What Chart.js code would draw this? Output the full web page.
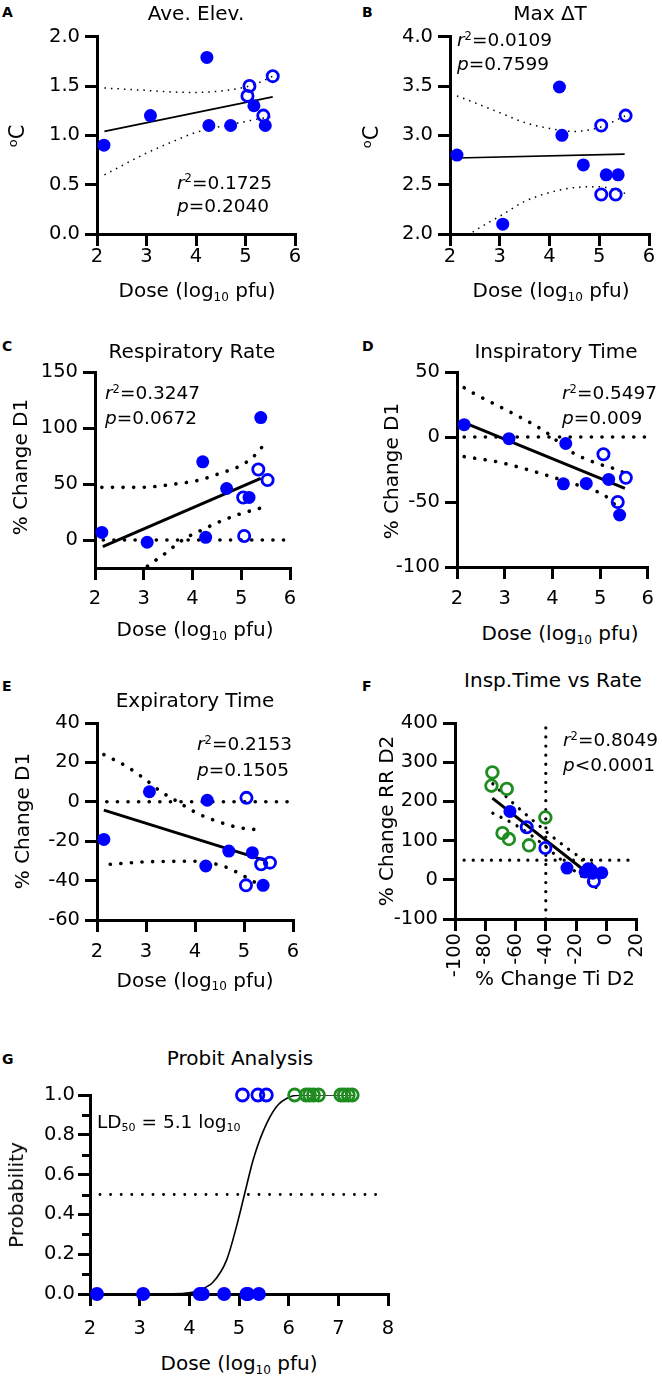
<!DOCTYPE html>
<html><head><meta charset="utf-8">
<script src="https://cdn.jsdelivr.net/npm/chart.js@4.4.0/dist/chart.umd.min.js"></script>
<style>
html,body{margin:0;padding:0;background:#fff;}
body{width:662px;height:1380px;position:relative;overflow:hidden;font-family:"DejaVu Sans",sans-serif;color:#000;}
canvas{position:absolute;}
.t{position:absolute;white-space:nowrap;line-height:1;}
.sup{font-size:0.62em;position:relative;top:-0.55em;}
.sub{font-size:0.6em;position:relative;top:0.3em;}
</style></head><body>
<script>
// ---------------- DATA ----------------
// Panel A: Ave. Elev.
const doseA = [2.14, 3.08, 4.22, 4.26, 4.70, 5.17, 5.40];
const elevA = [0.90, 1.20, 1.79, 1.10, 1.10, 1.30, 1.10];
const doseAOpen = [5.08, 5.04, 5.36, 5.55];
const elevAOpen = [1.50, 1.40, 1.20, 1.60];
const fitAX = [2.15, 5.55];
const fitAY = [1.04, 1.39];
const bandAX = [2.15, 3.0, 3.5, 4.0, 4.5, 5.0, 5.3, 5.55];
const upperAY = [1.48, 1.455, 1.44, 1.435, 1.45, 1.49, 1.54, 1.60];
const lowerAY = [0.60, 0.82, 0.93, 1.03, 1.09, 1.14, 1.17, 1.19];

// Panel B: Max dT
const doseB = [2.14, 3.06, 4.20, 4.25, 4.68, 5.14, 5.38];
const dtB = [2.80, 2.10, 3.49, 3.00, 2.70, 2.60, 2.60];
const doseBOpen = [5.04, 5.53, 5.04, 5.33];
const dtBOpen = [3.10, 3.20, 2.40, 2.40];
const fitBX = [2.14, 5.51];
const fitBY = [2.77, 2.81];
const upperBX = [2.14, 2.5, 3.0, 3.5, 4.0, 4.5, 5.0, 5.53];
const upperBY = [3.40, 3.33, 3.23, 3.13, 3.07, 3.04, 3.08, 3.20];
const lowerBX = [2.14, 2.49, 3.0, 3.5, 4.0, 4.5, 5.0, 5.3, 5.53];
const lowerBY = [1.90, 2.03, 2.18, 2.33, 2.42, 2.47, 2.48, 2.45, 2.41];

// Panel C: Respiratory Rate
const doseC = [2.14, 3.07, 4.21, 4.27, 4.70, 5.16, 5.40];
const rrC = [6.8, -2.0, 69.8, 2.4, 46.0, 38.0, 109.3];
const doseCOpen = [5.35, 5.54, 5.04, 5.06];
const rrCOpen = [63.0, 53.5, 38.0, 3.6];
const fitCX = [2.16, 5.40];
const fitCY = [-6, 55];
const upperCX = [2.14, 2.92, 3.74, 4.15, 4.56, 4.97, 5.25, 5.42];
const upperCY = [47, 47, 50.6, 53.6, 59.5, 66, 74.4, 82.7];
const lowerCX = [2.9, 3.2, 3.37, 3.57, 3.85, 4.22, 4.56, 4.97, 5.38];
const lowerCY = [-29, -19.4, -14.3, -7.4, 1.5, 9.5, 16.4, 23.2, 28.3];
const zeroCX = [2.17, 5.9];
const zeroCY = [0, 0];

// Panel D: Inspiratory Time
const doseD = [2.15, 3.09, 4.28, 4.23, 4.71, 5.18, 5.41];
const tiD = [9.5, -1.3, -5.0, -36.0, -35.7, -32.6, -60.0];
const doseDOpen = [5.07, 5.54, 5.37];
const tiDOpen = [-13.3, -31.4, -50.0];
const fitDX = [2.15, 5.52];
const fitDY = [11, -39.5];
const upperDX = [2.15, 2.35, 3.10, 3.85, 4.39, 4.94, 5.41, 5.52];
const upperDY = [37.9, 33.6, 19.5, 4.1, -11.3, -20.3, -25.9, -28];
const lowerDX = [2.15, 2.83, 3.51, 4.19, 4.73, 5.08, 5.35, 5.45];
const lowerDY = [-15.1, -19, -25.4, -33, -39.5, -44.6, -53.6, -58];
const zeroDX = [2.15, 5.93];
const zeroDY = [0, 0];

// Panel E: Expiratory Time
const doseE = [3.07, 4.25, 2.14, 4.22, 4.69, 5.17, 5.39];
const teE = [5.1, 0.8, -19.1, -32.6, -25.0, -25.8, -42.4];
const doseEOpen = [5.05, 5.35, 5.53, 5.04];
const teEOpen = [2.0, -31.7, -30.9, -42.4];
const fitEX = [2.14, 5.46];
const fitEY = [-4.2, -30];
const upperEX = [2.14, 2.6, 2.99, 3.29, 3.63, 4.03, 4.44, 4.92, 5.4];
const upperEY = [24, 18, 11.3, 5.4, 0.3, -5.6, -9.8, -13.2, -14.4];
const lowerEX = [2.27, 3.08, 3.97, 4.44, 4.71, 4.93, 5.2, 5.4];
const lowerEY = [-31.7, -30.4, -30.2, -31.7, -33.9, -36.8, -40.5, -44];
const zeroEX = [2.2, 5.88];
const zeroEY = [0, 0];

// Panel F: Insp. Time vs Rate
const tiFGreen = [-75.3, -75.9, -65.8, -68.6, -64.4, -51.1, -40.3];
const rrFGreen = [274, 240, 232, 119, 104, 88, 159];
const tiFBlue = [-63.7, -26, -14, -12, -10, -9, -3];
const rrFBlue = [174.5, 30, 20, 28, 25, 17, 18];
const tiFBlueOpen = [-52.6, -40.3, -8.2];
const rrFBlueOpen = [134, 81, -4];
const fitFX = [-75.3, -8];
const fitFY = [208.5, 4];
const upperFX = [-75, -60, -45, -35, -25, -15, -5];
const upperFY = [245, 190, 140, 108, 78, 52, 32];
const lowerFX = [-75, -60, -45, -35, -25, -15, -5];
const lowerFY = [170, 140, 100, 68, 35, 5, -25];
const refHX = [-94, 20];
const refHY = [50, 50];
const refVX = [-40, -40];
const refVY = [-100, 400];

// Panel G: Probit Analysis
const doseGDead = [2.14, 3.07, 4.21, 4.27, 4.70, 5.15, 5.18, 5.40];
const probGDead = [0, 0, 0, 0, 0, 0, 0, 0];
const doseGBlue = [5.07, 5.38, 5.55];
const probGBlue = [1, 1, 1];
const doseGGreen = [6.12, 6.35, 6.42, 6.50, 6.60, 7.05, 7.12, 7.20, 7.28];
const probGGreen = [1, 1, 1, 1, 1, 1, 1, 1, 1];
const curveGX = [2.14, 3.0, 3.6, 4.0, 4.2, 4.48, 4.75, 4.95, 5.12, 5.28, 5.49, 5.75, 6.02, 6.3, 7.3];
const curveGY = [0, 0, 0.001, 0.006, 0.02, 0.06, 0.17, 0.34, 0.51, 0.67, 0.82, 0.94, 0.99, 1.0, 1.0];
const halfGX = [2.2, 7.93];
const halfGY = [0.5, 0.5];
const gMinorTicks = [0.1, 0.3, 0.5, 0.7, 0.9];

// ---------------- STYLE / HELPERS ----------------
const FONT = '"DejaVu Sans", sans-serif';
const BLUE = '#0000ff';
const GREEN = '#1f8c1f';
const TICK_SIZE = 19.5;
Chart.defaults.font.family = FONT;
Chart.defaults.color = '#000';

function pts(xs, ys) { return xs.map((x, i) => ({x: x, y: ys[i]})); }
function filledSet(xs, ys, color, r) {
  return {data: pts(xs, ys), showLine: false, pointRadius: r, pointHoverRadius: r,
    pointBackgroundColor: color, pointBorderColor: color, pointBorderWidth: 0, clip: false, order: 0};
}
function openSet(xs, ys, color, r, bw) {
  return {data: pts(xs, ys), showLine: false, pointRadius: r, pointHoverRadius: r,
    pointBackgroundColor: 'rgba(0,0,0,0)', pointBorderColor: color, pointBorderWidth: bw, clip: false, order: 0};
}
function lineSet(xs, ys, width, dash, cap, smooth) {
  return {data: pts(xs, ys), showLine: true, pointRadius: 0, pointHoverRadius: 0,
    borderColor: '#000', backgroundColor: '#000', borderWidth: width, borderDash: dash || [],
    borderCapStyle: cap || 'butt', cubicInterpolationMode: smooth ? 'monotone' : 'default',
    tension: 0, fill: false, order: 1};
}
function axis(pos, min, max, step, o) {
  return {
    type: 'linear', position: pos, min: min, max: max,
    ticks: {stepSize: step, includeBounds: false, autoSkip: false,
      maxRotation: o.rot || 0, minRotation: o.rot || 0, padding: o.pad,
      color: '#000', font: {family: FONT, size: TICK_SIZE},
      callback: o.fmt || (v => String(Math.round(v * 1000) / 1000))},
    grid: {display: true, drawOnChartArea: false, drawTicks: true, tickLength: 12,
      tickWidth: 3, tickColor: '#000', color: '#000', lineWidth: 3},
    border: {display: true, color: '#000', width: 3},
    afterFit: o.afterFit
  };
}
const fmt1 = v => v.toFixed(1);

function makeChart(rect, area, xAx, yAx, datasets, plugins) {
  const c = document.createElement('canvas');
  c.width = rect.w; c.height = rect.h;
  c.style.left = rect.x + 'px'; c.style.top = rect.y + 'px';
  c.style.width = rect.w + 'px'; c.style.height = rect.h + 'px';
  document.body.appendChild(c);
  xAx.afterFit = s => { s.height = rect.y + rect.h - area.b; };
  yAx.afterFit = s => { s.width = area.l - rect.x; };
  return new Chart(c.getContext('2d'), {
    type: 'scatter',
    data: {datasets: datasets},
    options: {
      responsive: false, animation: false, devicePixelRatio: 1, events: [],
      layout: {autoPadding: false, padding: {left: 0, top: area.t - rect.y, right: rect.x + rect.w - area.r, bottom: 0}},
      plugins: {legend: {display: false}, tooltip: {enabled: false}, title: {display: false}},
      scales: {x: xAx, y: yAx}
    },
    plugins: plugins || []
  });
}

const FINE = [1.5, 5];
const DOT = [0.1, 10.5];
const DOTF = [0.1, 9];

// A
makeChart({x: 0, y: 20, w: 330, h: 260}, {l: 97, t: 33, r: 295, b: 234},
  axis('bottom', 2, 6, 1, {pad: -1}), axis('left', 0, 2, 0.5, {pad: 5, fmt: fmt1}),
  [filledSet(doseA, elevA, BLUE, 6.5), openSet(doseAOpen, elevAOpen, BLUE, 5.6, 2.8),
   lineSet(fitAX, fitAY, 1.6), lineSet(bandAX, upperAY, 1.5, FINE, 'butt', true),
   lineSet(bandAX, lowerAY, 1.5, FINE, 'butt', true)]);

// B
makeChart({x: 331, y: 20, w: 331, h: 260}, {l: 450, t: 33, r: 649, b: 234},
  axis('bottom', 2, 6, 1, {pad: -1}), axis('left', 2, 4, 0.5, {pad: 5, fmt: fmt1}),
  [filledSet(doseB, dtB, BLUE, 6.5), openSet(doseBOpen, dtBOpen, BLUE, 5.6, 2.8),
   lineSet(fitBX, fitBY, 1.6), lineSet(upperBX, upperBY, 1.5, FINE, 'butt', true),
   lineSet(lowerBX, lowerBY, 1.5, FINE, 'butt', true)]);

// C
makeChart({x: 0, y: 355, w: 330, h: 265}, {l: 95, t: 372, r: 290, b: 568},
  axis('bottom', 2, 6, 1, {pad: 7}), axis('left', -25, 150, 50, {pad: 5}),
  [filledSet(doseC, rrC, BLUE, 6.5), openSet(doseCOpen, rrCOpen, BLUE, 5.6, 2.8),
   lineSet(fitCX, fitCY, 3), lineSet(upperCX, upperCY, 3.6, DOT, 'round', true),
   lineSet(lowerCX, lowerCY, 3.6, DOT, 'round', true), lineSet(zeroCX, zeroCY, 3.6, DOT, 'round')]);

// D
makeChart({x: 331, y: 355, w: 331, h: 265}, {l: 457, t: 372, r: 653, b: 567},
  axis('bottom', 2, 6, 1, {pad: 8}), axis('left', -100, 50, 50, {pad: 5}),
  [filledSet(doseD, tiD, BLUE, 6.5), openSet(doseDOpen, tiDOpen, BLUE, 5.6, 2.8),
   lineSet(fitDX, fitDY, 3), lineSet(upperDX, upperDY, 3.6, DOT, 'round', true),
   lineSet(lowerDX, lowerDY, 3.6, DOT, 'round', true), lineSet(zeroDX, zeroDY, 3.6, DOT, 'round')]);

// E
makeChart({x: 0, y: 705, w: 330, h: 265}, {l: 97, t: 723, r: 293, b: 920},
  axis('bottom', 2, 6, 1, {pad: 8}), axis('left', -60, 40, 20, {pad: 5}),
  [filledSet(doseE, teE, BLUE, 6.5), openSet(doseEOpen, teEOpen, BLUE, 5.6, 2.8),
   lineSet(fitEX, fitEY, 3), lineSet(upperEX, upperEY, 3.6, DOT, 'round', true),
   lineSet(lowerEX, lowerEY, 3.6, DOT, 'round', true), lineSet(zeroEX, zeroEY, 3.6, DOT, 'round')]);

// F
makeChart({x: 331, y: 705, w: 331, h: 290}, {l: 455, t: 723, r: 645, b: 919},
  axis('bottom', -100, 20, 20, {pad: 2, rot: 90}), axis('left', -100, 400, 100, {pad: 5}),
  [filledSet(tiFBlue, rrFBlue, BLUE, 6.5), openSet(tiFBlueOpen, rrFBlueOpen, BLUE, 5.6, 2.8),
   openSet(tiFGreen, rrFGreen, GREEN, 5.8, 2.8),
   lineSet(fitFX, fitFY, 3), lineSet(upperFX, upperFY, 3.2, DOTF, 'round', true),
   lineSet(lowerFX, lowerFY, 3.2, DOTF, 'round', true),
   lineSet(refHX, refHY, 3.2, DOTF, 'round'), lineSet(refVX, refVY, 3.2, DOTF, 'round')]);

// G
const minorTickPlugin = {
  id: 'minorTicks',
  afterDraw(chart) {
    const s = chart.scales.y, ctx = chart.ctx, L = chart.chartArea.left;
    ctx.save(); ctx.strokeStyle = '#000'; ctx.lineWidth = 3;
    gMinorTicks.forEach(v => {
      const y = Math.round(s.getPixelForValue(v)) + 0.5;
      ctx.beginPath(); ctx.moveTo(L - 8, y); ctx.lineTo(L - 1, y); ctx.stroke();
    });
    ctx.restore();
  }
};
makeChart({x: 0, y: 1080, w: 420, h: 260}, {l: 90, t: 1095, r: 388, b: 1294},
  axis('bottom', 2, 8, 1, {pad: 11}), axis('left', 0, 1, 0.2, {pad: 3, fmt: fmt1}),
  [filledSet(doseGDead, probGDead, BLUE, 7), openSet(doseGBlue, probGBlue, BLUE, 6, 2.8),
   openSet(doseGGreen, probGGreen, GREEN, 6, 2.8),
   lineSet(curveGX, curveGY, 1.6, [], 'butt', true), lineSet(halfGX, halfGY, 2.8, DOT, 'round')],
  [minorTickPlugin]);

// ---------------- TEXT ----------------
function txt(html, x, baseline, size, o) {
  o = o || {};
  const d = document.createElement('div');
  d.className = 't';
  d.innerHTML = html;
  d.style.fontSize = size + 'px';
  if (o.bold) d.style.fontWeight = 'bold';
  d.style.top = (baseline - 0.846 * size) + 'px';
  d.style.left = x + 'px';
  if (o.center) d.style.transform = 'translateX(-50%)';
  document.body.appendChild(d);
}
function rtxt(html, cx, cy, size) {
  const d = document.createElement('div');
  d.className = 't';
  d.innerHTML = html;
  d.style.fontSize = size + 'px';
  d.style.left = cx + 'px'; d.style.top = cy + 'px';
  d.style.transform = 'translate(-50%,-50%) rotate(-90deg)';
  document.body.appendChild(d);
}
const DOSE = 'Dose (log<span class="sub">10</span> pfu)';
const R2 = v => '<i>r</i><span class="sup">2</span>=' + v;
const P = (v, op) => '<i>p</i>' + (op || '=') + v;
const TS = 20;

// panel letters
[['A', 2, 16.5], ['B', 362, 16.5], ['C', 2, 350.5], ['D', 362, 350.5], ['E', 2, 690.5], ['F', 362, 691], ['G', 2, 1063.5]]
  .forEach(a => txt(a[0], a[1], a[2], 14, {bold: true}));
// titles
txt('Ave. Elev.', 196, 20, TS, {center: true});
txt('Max ΔT', 550, 19.5, TS, {center: true});
txt('Respiratory Rate', 192, 358, TS, {center: true});
txt('Inspiratory Time', 556, 358, TS, {center: true});
txt('Expiratory Time', 195, 707, TS, {center: true});
txt('Insp.Time vs Rate', 553, 687, TS, {center: true});
txt('Probit Analysis', 240, 1065, TS, {center: true});
// x titles
txt(DOSE, 197, 297, TS, {center: true});
txt(DOSE, 551, 297, TS, {center: true});
txt(DOSE, 195, 636, TS, {center: true});
txt(DOSE, 560, 640, TS, {center: true});
txt(DOSE, 195, 986.5, TS, {center: true});
txt('% Change Ti D2', 555, 985, TS, {center: true});
txt(DOSE, 239, 1370, TS, {center: true});
// y titles
rtxt('<span class="sup">o</span>C', 17, 136, 21);
rtxt('<span class="sup">o</span>C', 371, 137, 21);
rtxt('% Change D1', 20, 467, TS);
rtxt('% Change D1', 391, 471, TS);
rtxt('% Change D1', 22, 821, TS);
rtxt('% Change RR D2', 386, 821, TS);
rtxt('Probability', 16, 1195, TS);
// stats
const SS = 18.5;
txt(R2('0.1725'), 177, 189.3, SS); txt(P('0.2040'), 177, 212.3, SS);
txt(R2('0.0109'), 457, 46.7, SS); txt(P('0.7599'), 457, 71, SS);
txt(R2('0.3247'), 105, 400, SS); txt(P('0.0672'), 105, 425, SS);
txt(R2('0.5497'), 562, 400, SS); txt(P('0.009'), 562, 425, SS);
txt(R2('0.2153'), 197, 751, SS); txt(P('0.1505'), 197, 776.7, SS);
txt(R2('0.8049'), 563, 746.7, SS); txt(P('0.0001', '&lt;'), 563, 771.7, SS);
txt('LD<span class="sub">50</span> = 5.1 log<span class="sub">10</span>', 97, 1128.3, SS);
</script>
</body></html>
